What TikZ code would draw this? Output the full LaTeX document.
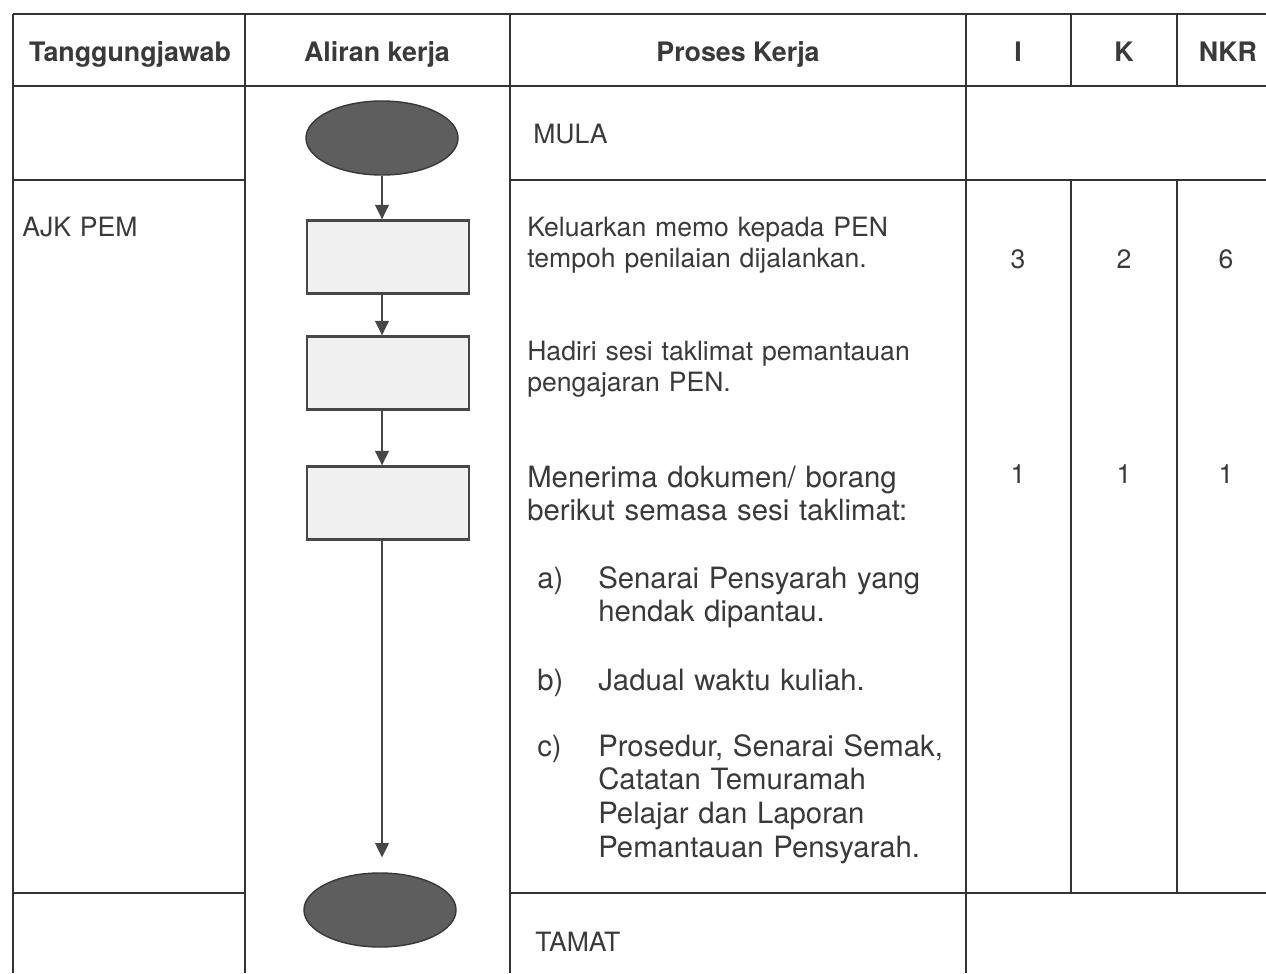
\documentclass[tikz,border=0pt]{standalone}
\usepackage{fontspec}
\setmainfont{TeX Gyre Heros}
\usetikzlibrary{shapes.geometric,arrows.meta}
\definecolor{ink}{HTML}{3A3A3A}

\begin{document}
\begin{tikzpicture}[x=0.025cm,y=-0.025cm,
	grid/.style={draw=black!80,line width=0.9pt},
	terminal/.style={ellipse,draw=black!78,fill=black!63,line width=1pt,minimum width=3.8cm,minimum height=1.85cm,inner sep=0pt},
	stepbox/.style={rectangle,draw=black!72,fill=black!6,line width=1.6pt,minimum width=4.05cm,minimum height=1.825cm,inner sep=0pt},
	flow/.style={draw=black!72,line width=1.3pt,-{Triangle[length=0.36cm,width=0.34cm]}},
	head/.style={font=\fontsize{19.06}{23}\selectfont\bfseries,text=ink,inner sep=0pt,anchor=base},
	txt/.style={font=\fontsize{18.9}{22.4}\selectfont,text=ink,inner sep=0pt,anchor=base west,align=left,text width=11cm},
	big/.style={txt,font=\fontsize{20.85}{23.97}\selectfont},
	num/.style={font=\fontsize{18.9}{22.4}\selectfont,text=ink,inner sep=0pt,anchor=base}]
	\useasboundingbox[fill=white] (0,0) rectangle (1266,973);
	\draw[grid] (13,14) -- (1266,14);
	\draw[grid] (13,86) -- (1266,86);
	\draw[grid] (13,180) -- (245,180) (510,180) -- (1266,180);
	\draw[grid] (13,893) -- (245,893) (510,893) -- (1266,893);
	\foreach \x in {13,245,510,966}
		\draw[grid] (\x,14) -- (\x,973);
	\foreach \x in {1071,1177}
		\draw[grid] (\x,14) -- (\x,86) (\x,180) -- (\x,893);
	\node[head] (hTJ) at (130,61) {Tanggungjawab};
	\node[head] (hAK) at (377,61) {Aliran kerja};
	\node[head] (hPK) at (738,61) {Proses Kerja};
	\node[head] (hI) at (1018,61) {I};
	\node[head] (hK) at (1124,61) {K};
	\node[head] (hNKR) at (1228,61) {NKR};
	\node[terminal] (mula) at (382,138) {};
	\node[stepbox] (k1) at (388,257) {};
	\node[stepbox] (k2) at (388,373) {};
	\node[stepbox] (k3) at (388,503) {};
	\node[terminal] (tamat) at (380,910) {};
	\draw[flow] (mula) -- (mula |- k1.north);
	\draw[flow] (k1.south -| mula) -- (k2.north -| mula);
	\draw[flow] (k2.south -| mula) -- (k3.north -| mula);
	\draw[flow,shorten >=0.37cm] (k3.south -| mula) -- (tamat.north -| mula);
	\node[txt] (tMula) at (533,143) {MULA};
	\node[txt] (tAJK) at (22,236) {AJK PEM};
	\node[txt] (t1) at (527,236) {Keluarkan memo kepada PEN\\tempoh penilaian dijalankan.};
	\node[txt] (t2) at (527,360) {Hadiri sesi taklimat pemantauan\\pengajaran PEN.};
	\node[big] (t3) at (527,487) {Menerima dokumen/ borang\\berikut semasa sesi taklimat:};
	\node[big] (ia) at (537,588) {a)};
	\node[big] (ta) at (598,588) {Senarai Pensyarah yang\\hendak dipantau.};
	\node[big] (ib) at (537,690) {b)};
	\node[big] (tb) at (598,690) {Jadual waktu kuliah.};
	\node[big] (ic) at (537,756) {c)};
	\node[big] (tc) at (598,756) {Prosedur, Senarai Semak,\\Catatan Temuramah\\Pelajar dan Laporan\\Pemantauan Pensyarah.};
	\node[txt] (tTamat) at (535,951) {TAMAT};
	\node[num] (nI1) at (1018,268) {3};
	\node[num] (nK1) at (1124,268) {2};
	\node[num] (nN1) at (1226,268) {6};
	\node[num] (nI2) at (1018,483) {1};
	\node[num] (nK2) at (1124,483) {1};
	\node[num] (nN2) at (1226,483) {1};
\end{tikzpicture}
\end{document}
